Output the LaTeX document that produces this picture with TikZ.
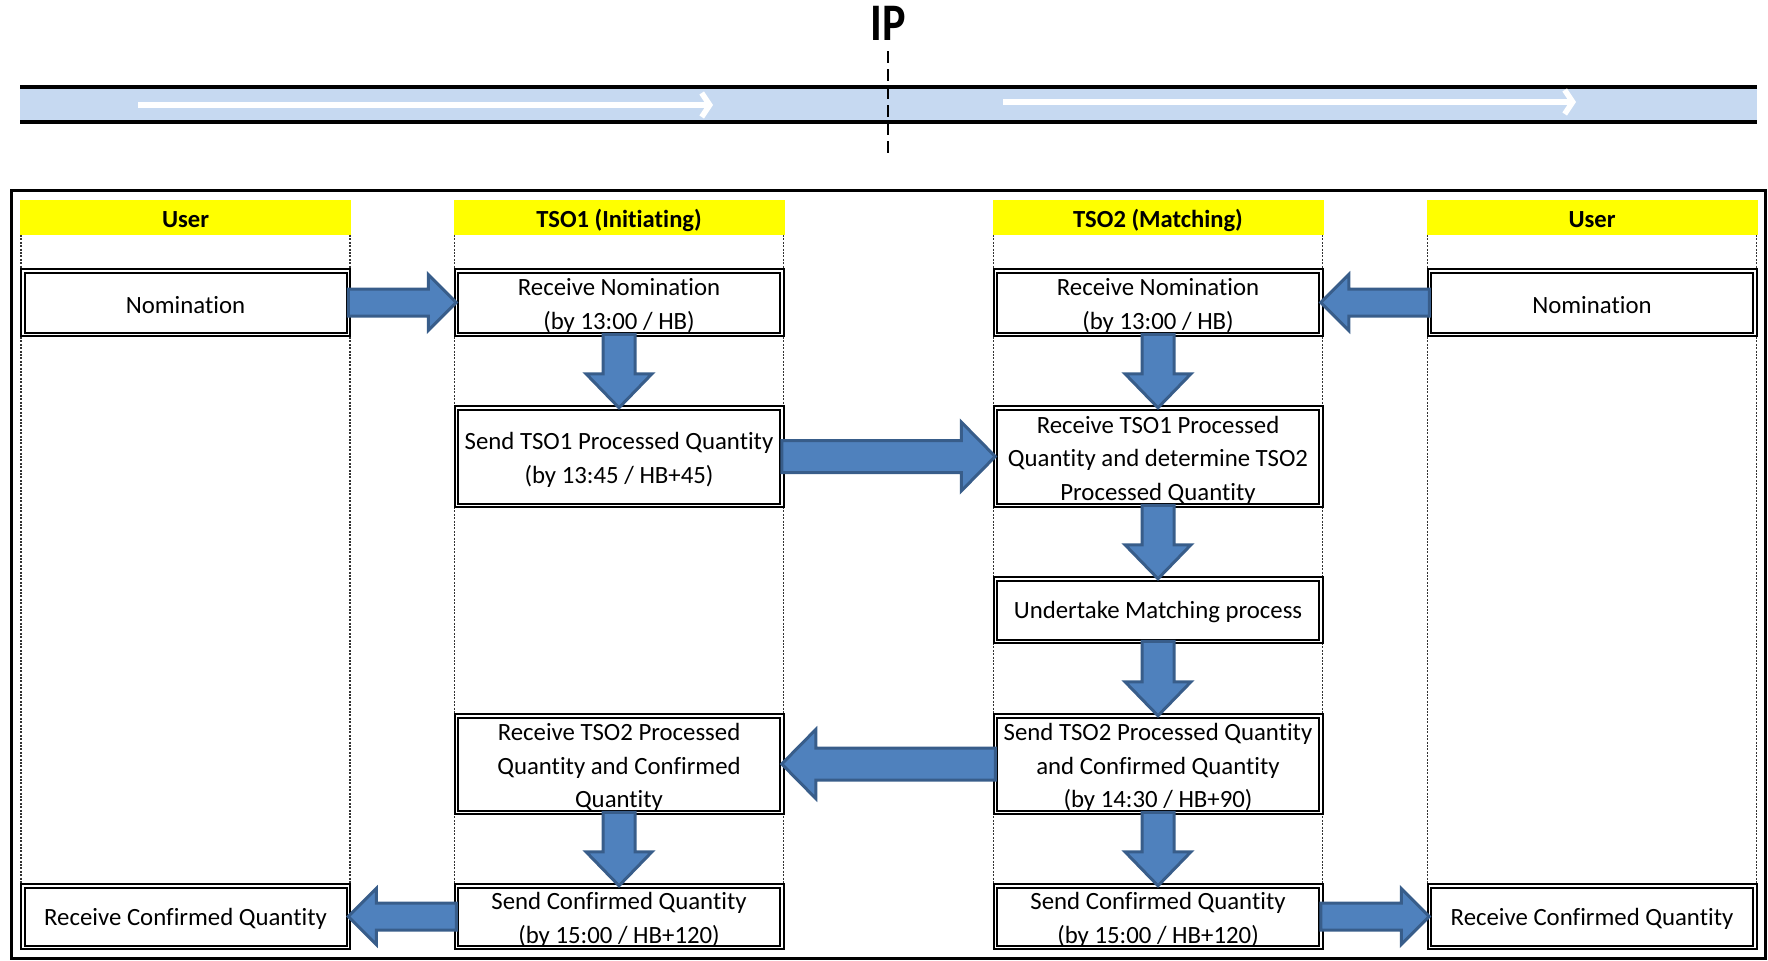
\documentclass[tikz,border=0pt]{standalone}
\usepackage{fontspec}
\setmainfont[Ligatures={NoCommon}]{Carlito}
\usetikzlibrary{calc,arrows.meta}
\definecolor{hdryellow}{HTML}{FFFF00}
\definecolor{pipeblue}{HTML}{C6D9F1}
\definecolor{arrfill}{HTML}{4F81BD}
\definecolor{arrline}{HTML}{385D8A}
% #1 from, #2 to, #3 shaft half width, #4 head half width, #5 head length
\newcommand\blockarrow[5]{%
  \path (#1) coordinate (ba-s) (#2) coordinate (ba-e);
  \path ($(ba-e)!#5!(ba-s)$) coordinate (ba-b);
  \draw[barrow] ($(ba-s)!#3!90:(ba-e)$) -- ($(ba-b)!#3!-90:(ba-s)$) -- ($(ba-b)!#4!-90:(ba-s)$) -- (ba-e) -- ($(ba-b)!#4!90:(ba-s)$) -- ($(ba-b)!#3!90:(ba-s)$) -- ($(ba-s)!#3!-90:(ba-e)$) -- cycle;}
\newcommand\smallarrow[2]{\blockarrow{#1}{#2}{6.75pt}{14pt}{14pt}}
\newcommand\bigarrow[2]{\blockarrow{#1}{#2}{8pt}{17.25pt}{17pt}}
\newcommand\dnarrow[2]{\blockarrow{#1}{#2}{8pt}{16.5pt}{17pt}}
\newcommand\fst{\rule{0pt}{12pt}}
\tikzset{
  barrow/.style={fill=arrfill, draw=arrline, line width=1.5pt, line join=miter},
  box/.style={draw, double, double distance=0.75pt, line width=1pt, fill=white,
    minimum width=162.75pt, align=center, inner sep=0pt, outer sep=0pt,
    font=\fontsize{12.4}{16.75}\selectfont,
    execute at begin node={\rule{0pt}{10.8pt}}},
  r1/.style={box, minimum height=31.75pt},
  r2/.style={box, minimum height=48.75pt},
  r3/.style={box, minimum height=31.25pt},
  r4/.style={box, minimum height=48.25pt},
  r5/.style={box, minimum height=30.75pt},
  hdr/.style={fill=hdryellow, minimum width=165.5pt, minimum height=17.5pt,
    inner sep=0pt, outer sep=0pt, text height=10pt, text depth=0pt,
    font=\bfseries\fontsize{12.3}{15}\selectfont},
  lane/.style={line width=0.9pt, black!80, dash pattern=on 1pt off 0.7pt},
  flow/.style={white, line width=2.75pt, -{Straight Barb[length=4pt,width=12pt]}}
}
\begin{document}
\begin{tikzpicture}[x=0.5pt,y=-0.5pt]
\useasboundingbox (0,0) rectangle (1768,960);
% pipeline
\fill[pipeblue] (20,87) rectangle (1757,122);
\draw[line width=2pt] (20,87) -- (1757,87);
\draw[line width=2pt] (20,122) -- (1757,122);
\coordinate (fa1) at (138,105); \coordinate (fa2) at (713,105);
\coordinate (fb1) at (1003,102); \coordinate (fb2) at (1576,102);
\draw[flow] (fa1) -- (fa2);
\draw[flow] (fb1) -- (fb2);
\coordinate (ipt) at (888,51); \coordinate (ipb) at (888,157);
\draw[line width=1.4pt, dash pattern=on 6pt off 3pt] (ipt) -- (ipb);
\node[font=\bfseries\fontsize{24}{24}\selectfont, xscale=0.92, yscale=1.1] (ip) at (888,23) {IP};
% frame
\draw[line width=1.5pt] (11,190) rectangle (1765,958);
% headers
\node[hdr] (hL) at (185.5,217.5) {User};
\node[hdr] (h1) at (619,217.5) {TSO1 (Initiating)};
\node[hdr] (h2) at (1158,217.5) {TSO2 (Matching)};
\node[hdr] (hR) at (1592,217.5) {User};
% lane lines
\foreach \h in {hL,h1,h2,hR}{
  \draw[lane] ([xshift=0.5pt]\h.south west) -- ([xshift=0.5pt]\h.south west |- 0,883);
  \draw[lane] ([xshift=-0.5pt]\h.south east) -- ([xshift=-0.5pt]\h.south east |- 0,883);
}
% boxes
\node[r1] (uL1) at (185.5,302.5) {Nomination};
\node[r1] (t1a) at (619,302.5) {\fst Receive Nomination\\(by 13:00 / HB)};
\node[r1] (t2a) at (1158,302.5) {\fst Receive Nomination\\(by 13:00 / HB)};
\node[r1] (uR1) at (1592,302.5) {Nomination};
\node[r2] (t1b) at (619,456.5) {\fst Send TSO1 Processed Quantity\\(by 13:45 / HB+45)};
\node[r2] (t2b) at (1158,456.5) {\fst Receive TSO1 Processed\\Quantity and determine TSO2\\Processed Quantity};
\node[r3] (t2c) at (1158,610) {Undertake Matching process};
\node[r4] (t1d) at (619,764) {\fst Receive TSO2 Processed\\Quantity and Confirmed\\Quantity};
\node[r4] (t2d) at (1158,764) {\fst Send TSO2 Processed Quantity\\and Confirmed Quantity\\(by 14:30 / HB+90)};
\node[r5] (uL5) at (185.5,916.5) {Receive Confirmed Quantity};
\node[r5] (t1e) at (619,916.5) {\fst Send Confirmed Quantity\\(by 15:00 / HB+120)};
\node[r5] (t2e) at (1158,916.5) {\fst Send Confirmed Quantity\\(by 15:00 / HB+120)};
\node[r5] (uR5) at (1592,916.5) {Receive Confirmed Quantity};
% arrows
\smallarrow{uL1.east}{t1a.west}
\smallarrow{uR1.west}{t2a.east}
\dnarrow{t1a.south}{t1b.north}
\dnarrow{t2a.south}{t2b.north}
\bigarrow{t1b.east}{t2b.west}
\dnarrow{t2b.south}{t2c.north}
\dnarrow{t2c.south}{t2d.north}
\bigarrow{t2d.west}{t1d.east}
\dnarrow{t1d.south}{t1e.north}
\dnarrow{t2d.south}{t2e.north}
\smallarrow{t1e.west}{uL5.east}
\smallarrow{t2e.east}{uR5.west}
\end{tikzpicture}
\end{document}
